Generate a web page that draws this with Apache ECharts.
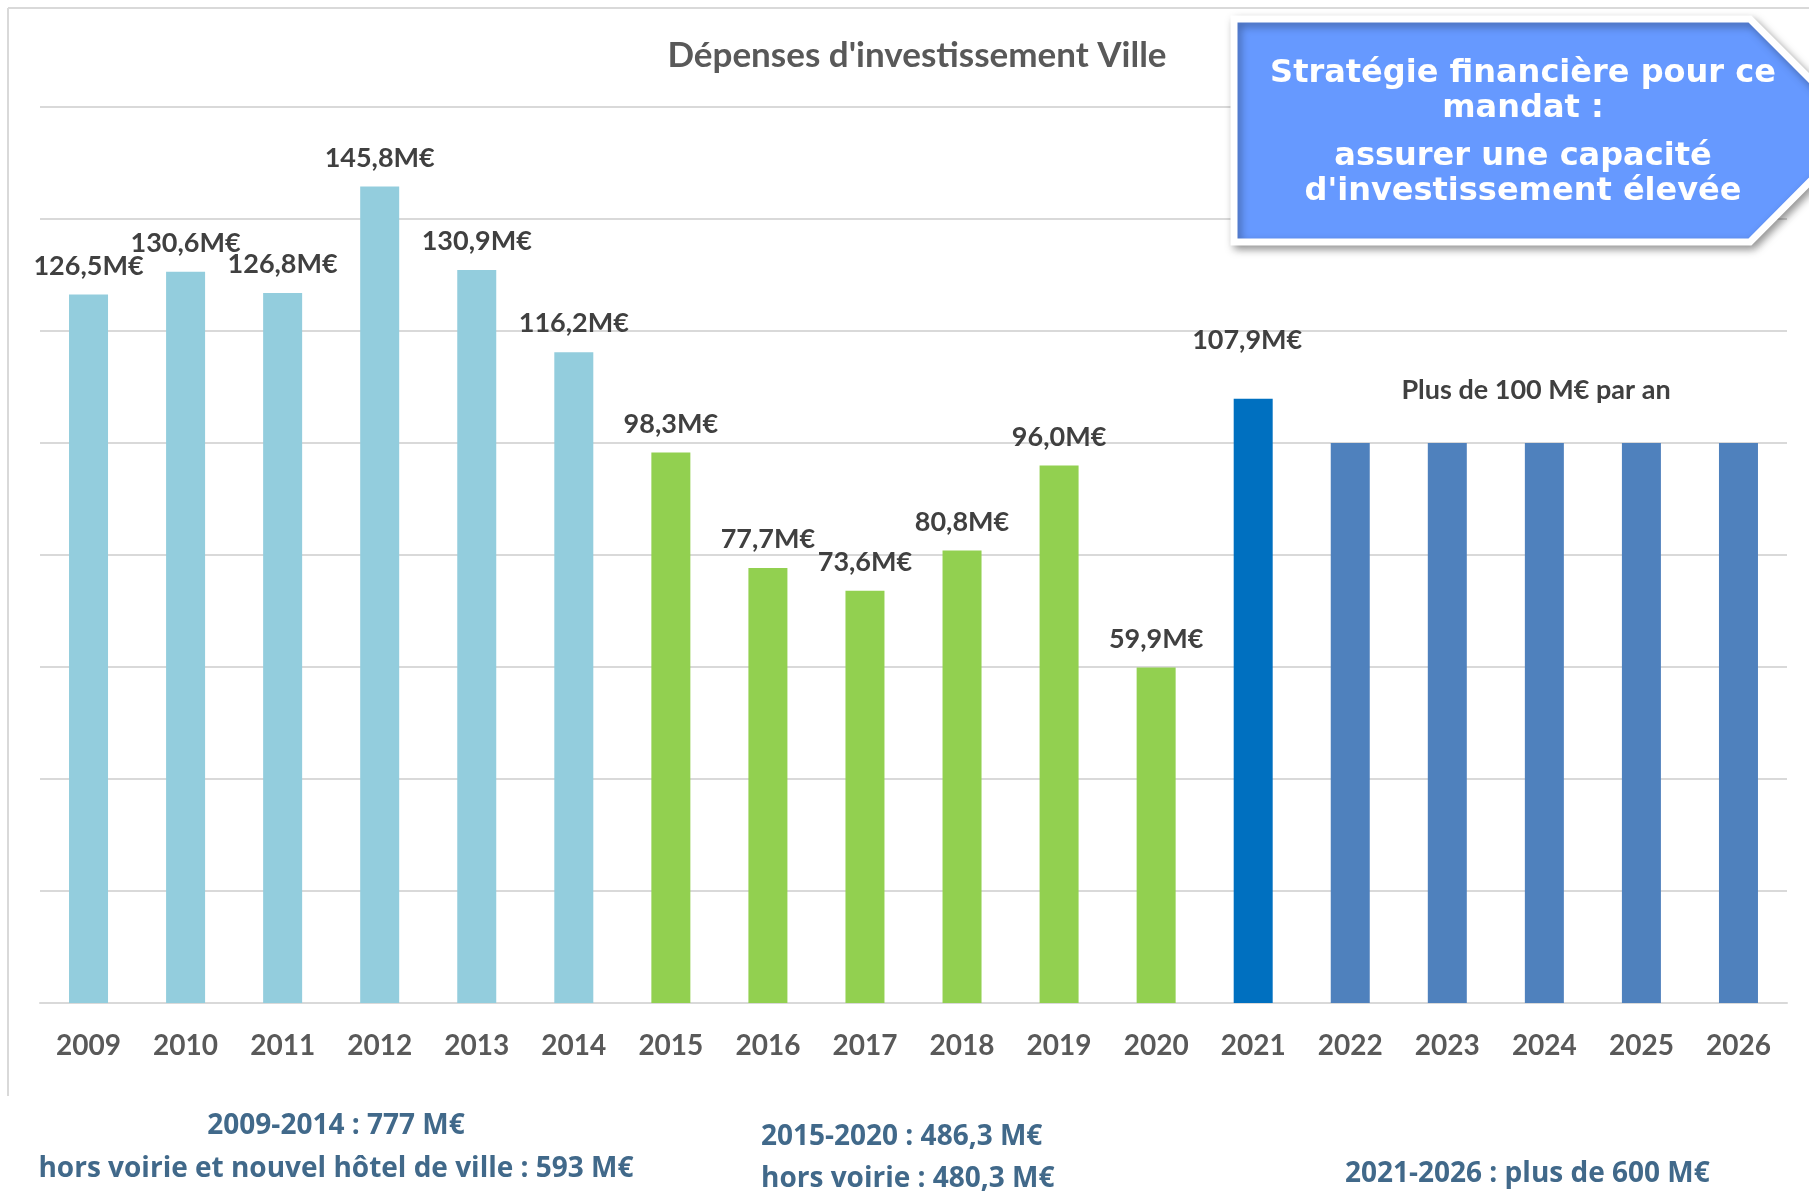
<!DOCTYPE html>
<html>
<head>
<meta charset="utf-8">
<title>Dépenses d'investissement Ville</title>
<script src="https://cdn.jsdelivr.net/npm/echarts@6/dist/echarts.min.js"></script>
<style>
  html, body { margin: 0; padding: 0; background: #fff; }
  #chart { width: 1809px; height: 1197px; }
</style>
</head>
<body>
<div id="chart"></div>
<script>
// années
const annees = ['2009', '2010', '2011', '2012', '2013', '2014', '2015', '2016', '2017',
  '2018', '2019', '2020', '2021', '2022', '2023', '2024', '2025', '2026'];
// dépenses d'investissement en M€ (2022-2026 : objectif 100 M€ / an)
const depenses = [126.5, 130.6, 126.8, 145.8, 130.9, 116.2, 98.3, 77.7, 73.6,
  80.8, 96.0, 59.9, 107.9, 100, 100, 100, 100, 100];
// nb d'années réalisées (avec étiquette)
const nbRealise = 13;

// textes du bas
const periode1 = ['2009-2014 : 777 M€', 'hors voirie et nouvel hôtel de ville : 593 M€'];
const periode2 = ['2015-2020 : 486,3 M€', 'hors voirie : 480,3 M€'];
const periode3 = ['2021-2026 : plus de 600 M€'];
const objectif = 'Plus de 100 M€ par an';
const encadre1 = 'Stratégie financière pour ce\nmandat :';
const encadre2 = 'assurer une capacité\nd\'investissement élevée';

function couleur(i) {
  if (i < 6) return '#93CDDD';
  if (i < 12) return '#92D050';
  if (i === 12) return '#0070C0';
  return '#4F81BD';
}

const chart = echarts.init(document.getElementById('chart'), null, { renderer: 'canvas' });

const barres = depenses.map((v, i) => ({
  value: v,
  itemStyle: { color: couleur(i) },
  label: {
    show: i < nbRealise,
    distance: i === 12 ? 45 : 15,
    offset: i === 12 ? [-6, 0] : [0, 0]
  }
}));

const bleuTexte = '#41698A';

const option = {
  backgroundColor: '#ffffff',
  animation: false,
  title: {
    text: 'Dépenses d\'investissement Ville',
    left: 912,
    top: 33,
    textAlign: 'center',
    textStyle: { fontFamily: 'Lato', fontWeight: 'bold', fontSize: 35, color: '#595959' }
  },
  grid: { left: 40, right: 22, top: 107, bottom: 194 },
  xAxis: {
    type: 'category',
    data: annees,
    axisTick: { show: false },
    axisLine: { lineStyle: { color: '#D9D9D9', width: 2 } },
    axisLabel: { margin: 29, fontFamily: 'Lato', fontWeight: 'bold', fontSize: 28, color: '#595959' }
  },
  yAxis: {
    type: 'value',
    min: 0,
    max: 160,
    interval: 20,
    axisLabel: { show: false },
    axisLine: { show: false },
    axisTick: { show: false },
    splitLine: { lineStyle: { color: '#D9D9D9', width: 2 } }
  },
  series: [{
    type: 'bar',
    data: barres,
    barWidth: 39,
    label: {
      position: 'top',
      fontFamily: 'Lato',
      fontWeight: 'bold',
      fontSize: 27,
      color: '#404040',
      formatter: p => p.value.toFixed(1).replace('.', ',') + 'M€'
    }
  }],
  graphic: [
    // cadre
    { type: 'line', shape: { x1: 8, y1: 8, x2: 1809, y2: 8 }, style: { stroke: '#D9D9D9', lineWidth: 2 } },
    { type: 'line', shape: { x1: 8, y1: 8, x2: 8, y2: 1096 }, style: { stroke: '#D9D9D9', lineWidth: 2 } },
    // encadré
    {
      type: 'polygon',
      shape: { points: [[1234, 19], [1750, 19], [1861, 130], [1750, 242], [1234, 242]] },
      style: {
        fill: '#6699FF', stroke: '#ffffff', lineWidth: 7,
        shadowBlur: 8, shadowColor: 'rgba(0,0,0,0.35)', shadowOffsetX: 3, shadowOffsetY: 4
      },
      z: 10
    },
    {
      type: 'text', x: 1523, y: 91, z: 11,
      style: {
        text: encadre1, fill: '#ffffff', align: 'center', verticalAlign: 'middle',
        font: 'bold 32px "DejaVu Sans"', lineHeight: 35
      }
    },
    {
      type: 'text', x: 1523, y: 174, z: 11,
      style: {
        text: encadre2, fill: '#ffffff', align: 'center', verticalAlign: 'middle',
        font: 'bold 32px "DejaVu Sans"', lineHeight: 35
      }
    },
    // objectif
    {
      type: 'text', x: 1536, y: 390,
      style: { text: objectif, fill: '#404040', align: 'center', verticalAlign: 'middle', font: 'bold 27px Lato' }
    },
    // périodes
    {
      type: 'text', x: 336, y: 1148,
      style: {
        text: periode1.join('\n'), fill: bleuTexte, align: 'center', verticalAlign: 'middle',
        font: 'bold 28px "Open Sans"', lineHeight: 43
      }
    },
    {
      type: 'text', x: 761, y: 1158,
      style: {
        text: periode2.join('\n'), fill: bleuTexte, align: 'left', verticalAlign: 'middle',
        font: 'bold 28px "Open Sans"', lineHeight: 42
      }
    },
    {
      type: 'text', x: 1345, y: 1174,
      style: { text: periode3.join('\n'), fill: bleuTexte, align: 'left', verticalAlign: 'middle', font: 'bold 28px "Open Sans"' }
    }
  ]
};

chart.setOption(option);
</script>
</body>
</html>
